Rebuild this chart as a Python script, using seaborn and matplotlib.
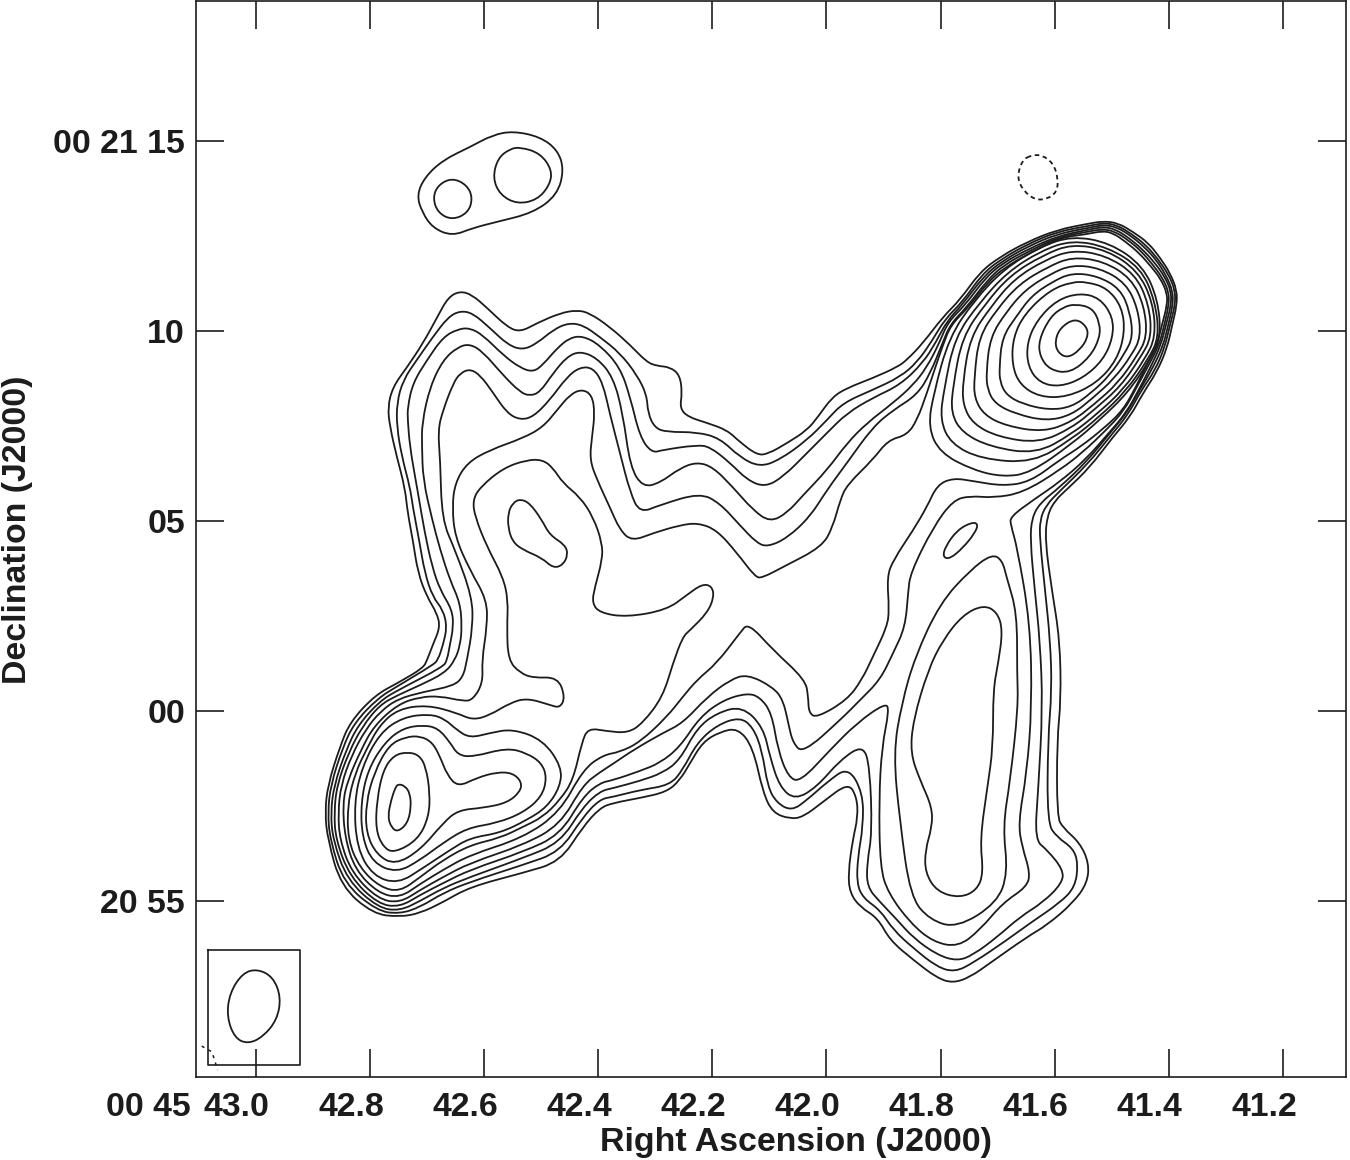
import numpy as np
import pandas as pd
import matplotlib
matplotlib.use("Agg")
import matplotlib.pyplot as plt
import seaborn as sns
from matplotlib.patches import PathPatch
from matplotlib.path import Path
from matplotlib.transforms import ScaledTranslation

# Contours: (RA seconds after 00 45, Dec arcsec relative to 00 21 00)
level1 = [(42.677,2.21),(42.683,2.58),(42.700,3.00),(42.716,3.63),(42.725,4.50),(42.734,5.21),(42.739,5.89),(42.753,6.68),(42.765,7.47),(42.769,8.00),(42.760,8.53),(42.735,9.05),(42.707,9.68),(42.682,10.37),(42.663,10.89),(42.642,11.05),(42.621,10.95),(42.595,10.61),(42.560,10.11),(42.537,9.97),(42.507,10.21),(42.467,10.47),(42.437,10.55),(42.415,10.47),(42.380,10.11),(42.344,9.63),(42.315,9.18),(42.297,9.08),(42.274,9.05),(42.257,8.84),(42.253,8.37),(42.257,7.97),(42.243,7.74),(42.209,7.58),(42.174,7.39),(42.152,7.08),(42.122,6.74),(42.103,6.76),(42.069,7.05),(42.034,7.39),(42.015,7.74),(41.990,8.26),(41.964,8.50),(41.919,8.76),(41.876,9.05),(41.859,9.24),(41.831,9.68),(41.796,10.37),(41.766,10.82),(41.731,11.55),(41.696,11.95),(41.649,12.34),(41.596,12.66),(41.543,12.82),(41.515,12.89),(41.489,12.84),(41.463,12.61),(41.436,12.32),(41.415,11.92),(41.398,11.53),(41.386,11.08),(41.386,10.68),(41.394,10.16),(41.403,9.55),(41.421,8.92),(41.445,8.37),(41.468,7.74),(41.498,7.21),(41.538,6.42),(41.578,5.84),(41.599,5.55),(41.613,5.16),(41.617,4.50),(41.605,3.18),(41.591,1.87),(41.589,0.29),(41.596,-0.76),(41.596,-2.79),(41.585,-3.08),(41.556,-3.47),(41.540,-4.00),(41.543,-4.53),(41.568,-5.05),(41.613,-5.63),(41.649,-5.95),(41.713,-6.63),(41.748,-7.00),(41.778,-7.16),(41.806,-7.03),(41.848,-6.55),(41.889,-6.03),(41.910,-5.45),(41.941,-5.16),(41.959,-4.79),(41.962,-4.26),(41.954,-3.39),(41.945,-2.79),(41.947,-2.26),(41.962,-1.89),(42.006,-2.39),(42.041,-2.79),(42.064,-2.84),(42.094,-2.68),(42.111,-2.16),(42.129,-0.95),(42.155,-0.45),(42.187,-0.55),(42.217,-0.82),(42.239,-1.37),(42.257,-1.82),(42.280,-2.13),(42.327,-2.29),(42.374,-2.42),(42.397,-2.55),(42.427,-3.05),(42.467,-3.97),(42.532,-4.26),(42.625,-4.63),(42.672,-5.03),(42.712,-5.32),(42.748,-5.42),(42.795,-5.34),(42.851,-4.61),(42.874,-3.39),(42.879,-2.68),(42.874,-1.95),(42.853,-0.95),(42.835,-0.29),(42.791,0.42),(42.751,0.74),(42.707,1.13),(42.700,1.34),(42.690,1.74)]
level2 = [(42.665,2.21),(42.672,2.66),(42.690,3.00),(42.704,3.63),(42.714,4.50),(42.725,5.37),(42.730,5.89),(42.744,6.68),(42.753,7.47),(42.753,8.11),(42.742,8.71),(42.718,9.24),(42.690,9.84),(42.663,10.37),(42.642,10.53),(42.620,10.47),(42.590,10.08),(42.558,9.63),(42.532,9.50),(42.507,9.68),(42.479,10.03),(42.453,10.21),(42.427,10.16),(42.397,9.84),(42.362,9.42),(42.332,8.84),(42.315,8.32),(42.313,7.84),(42.301,7.45),(42.280,7.34),(42.227,7.34),(42.187,7.18),(42.152,6.68),(42.117,6.42),(42.082,6.61),(42.034,7.13),(41.999,7.66),(41.971,8.11),(41.919,8.45),(41.871,8.79),(41.841,9.18),(41.815,9.74),(41.792,10.32),(41.762,10.76),(41.727,11.50),(41.694,11.89),(41.647,12.29),(41.596,12.61),(41.543,12.76),(41.515,12.84),(41.491,12.79),(41.465,12.55),(41.440,12.26),(41.419,11.89),(41.401,11.50),(41.389,11.08),(41.389,10.68),(41.398,10.16),(41.407,9.58),(41.424,8.97),(41.449,8.42),(41.472,7.79),(41.501,7.26),(41.542,6.50),(41.591,5.79),(41.615,5.42),(41.626,5.03),(41.626,4.50),(41.617,3.18),(41.608,1.87),(41.605,0.55),(41.612,-0.76),(41.613,-2.95),(41.596,-3.32),(41.568,-3.61),(41.559,-4.00),(41.564,-4.63),(41.591,-5.05),(41.643,-5.58),(41.684,-6.03),(41.743,-6.63),(41.775,-6.87),(41.806,-6.74),(41.848,-6.24),(41.883,-5.76),(41.906,-5.24),(41.936,-4.92),(41.947,-4.53),(41.945,-3.84),(41.936,-3.05),(41.936,-2.16),(41.962,-1.47),(41.999,-1.87),(42.034,-2.34),(42.061,-2.63),(42.087,-2.42),(42.103,-2.00),(42.113,-1.03),(42.129,-0.42),(42.152,-0.16),(42.192,-0.37),(42.227,-0.84),(42.252,-1.55),(42.274,-1.95),(42.327,-2.08),(42.374,-2.26),(42.397,-2.32),(42.427,-2.79),(42.467,-3.71),(42.532,-4.05),(42.625,-4.50),(42.672,-4.79),(42.712,-5.16),(42.748,-5.34),(42.788,-5.26),(42.846,-4.53),(42.870,-3.39),(42.874,-2.68),(42.869,-1.95),(42.848,-0.97),(42.828,-0.32),(42.786,0.34),(42.751,0.66),(42.690,1.21),(42.681,1.34),(42.672,1.74)]
level3 = [(42.654,2.21),(42.656,2.66),(42.677,3.18),(42.691,3.79),(42.704,4.68),(42.716,5.74),(42.721,6.16),(42.730,6.95),(42.734,7.66),(42.734,8.00),(42.725,8.63),(42.700,9.24),(42.672,9.84),(42.646,10.05),(42.625,10.08),(42.602,9.89),(42.567,9.37),(42.537,9.03),(42.514,8.92),(42.497,9.11),(42.472,9.55),(42.450,9.82),(42.427,9.87),(42.397,9.63),(42.362,9.05),(42.344,8.26),(42.327,7.21),(42.306,6.79),(42.287,6.87),(42.227,7.00),(42.204,6.95),(42.169,6.53),(42.139,6.08),(42.108,5.89),(42.076,6.16),(42.034,6.79),(41.999,7.32),(41.964,7.84),(41.919,8.24),(41.871,8.58),(41.831,9.16),(41.808,9.71),(41.789,10.26),(41.761,10.71),(41.724,11.45),(41.692,11.84),(41.645,12.24),(41.596,12.55),(41.543,12.71),(41.515,12.79),(41.492,12.74),(41.466,12.50),(41.443,12.21),(41.422,11.87),(41.405,11.47),(41.393,11.05),(41.393,10.68),(41.401,10.16),(41.410,9.61),(41.428,9.03),(41.451,8.45),(41.474,7.84),(41.503,7.32),(41.543,6.58),(41.591,5.89),(41.626,5.47),(41.640,5.08),(41.643,4.50),(41.635,3.18),(41.626,1.87),(41.621,0.11),(41.629,-2.08),(41.635,-3.39),(41.613,-3.66),(41.585,-4.18),(41.587,-4.53),(41.620,-5.03),(41.661,-5.42),(41.701,-5.95),(41.743,-6.42),(41.771,-6.58),(41.806,-6.42),(41.848,-5.97),(41.876,-5.50),(41.906,-5.03),(41.929,-4.63),(41.929,-4.00),(41.920,-3.21),(41.924,-1.47),(41.936,-0.89),(41.976,-1.29),(42.017,-2.00),(42.055,-2.34),(42.082,-2.00),(42.099,-1.21),(42.111,-0.42),(42.148,0.13),(42.192,-0.05),(42.227,-0.45),(42.257,-1.29),(42.287,-1.63),(42.327,-1.84),(42.374,-2.03),(42.397,-2.11),(42.427,-2.53),(42.467,-3.47),(42.532,-3.87),(42.625,-4.37),(42.672,-4.66),(42.712,-5.00),(42.748,-5.26),(42.786,-5.18),(42.840,-4.45),(42.865,-3.39),(42.869,-2.68),(42.863,-1.95),(42.842,-1.03),(42.821,-0.37),(42.783,0.26),(42.751,0.55),(42.672,1.16),(42.665,1.34),(42.660,1.74)]
level4 = [(42.639,2.21),(42.642,2.84),(42.660,3.45),(42.677,4.24),(42.691,5.03),(42.707,6.08),(42.709,6.95),(42.709,7.58),(42.695,8.53),(42.672,9.24),(42.646,9.58),(42.625,9.66),(42.602,9.45),(42.567,8.84),(42.537,8.39),(42.520,8.29),(42.502,8.39),(42.479,8.89),(42.455,9.32),(42.432,9.47),(42.402,9.29),(42.374,8.79),(42.357,7.84),(42.344,6.42),(42.322,5.89),(42.292,6.00),(42.257,6.39),(42.227,6.55),(42.199,6.42),(42.164,5.89),(42.129,5.29),(42.099,4.97),(42.069,5.21),(42.041,5.68),(41.999,6.34),(41.964,7.05),(41.929,7.58),(41.883,8.11),(41.848,8.58),(41.824,9.05),(41.803,9.66),(41.787,10.24),(41.757,10.68),(41.722,11.39),(41.691,11.79),(41.643,12.18),(41.594,12.50),(41.543,12.66),(41.515,12.74),(41.494,12.68),(41.470,12.45),(41.447,12.16),(41.426,11.82),(41.408,11.45),(41.396,11.05),(41.396,10.68),(41.405,10.16),(41.414,9.63),(41.431,9.08),(41.452,8.47),(41.475,7.84),(41.505,7.32),(41.545,6.63),(41.591,6.03),(41.635,5.58),(41.678,5.11),(41.677,4.89),(41.666,4.32),(41.643,2.32),(41.640,0.11),(41.649,-1.63),(41.664,-2.95),(41.657,-3.58),(41.643,-4.26),(41.649,-4.63),(41.691,-5.05),(41.731,-5.76),(41.769,-6.21),(41.813,-6.08),(41.853,-5.58),(41.892,-4.79),(41.906,-4.11),(41.908,-2.34),(41.903,-0.95),(41.890,0.03),(41.897,0.21),(41.947,-0.32),(41.994,-1.03),(42.046,-1.87),(42.067,-1.74),(42.085,-1.03),(42.096,-0.05),(42.117,0.37),(42.139,0.47),(42.181,0.29),(42.222,-0.16),(42.257,-0.95),(42.292,-1.37),(42.327,-1.58),(42.374,-1.82),(42.397,-1.89),(42.427,-2.26),(42.467,-3.26),(42.532,-3.71),(42.625,-4.18),(42.672,-4.53),(42.712,-4.84),(42.748,-5.16),(42.786,-5.08),(42.835,-4.37),(42.860,-3.39),(42.863,-2.68),(42.858,-1.95),(42.837,-1.08),(42.814,-0.42),(42.783,0.16),(42.751,0.42),(42.712,0.68),(42.669,1.00),(42.651,1.34),(42.642,1.74)]
level5 = [(42.620,2.21),(42.621,3.00),(42.651,4.24),(42.674,5.03),(42.677,6.61),(42.681,7.39),(42.672,7.92),(42.654,8.63),(42.642,8.89),(42.625,9.00),(42.607,8.84),(42.585,8.39),(42.560,7.84),(42.537,7.66),(42.514,7.74),(42.485,8.18),(42.455,8.79),(42.432,9.05),(42.409,9.03),(42.392,8.63),(42.380,7.84),(42.362,6.79),(42.344,5.74),(42.327,5.21),(42.292,5.42),(42.222,5.74),(42.187,5.47),(42.152,4.89),(42.122,4.42),(42.103,4.32),(42.069,4.55),(42.029,5.11),(41.999,5.82),(41.964,6.53),(41.919,7.47),(41.883,7.92),(41.841,8.32),(41.818,8.89),(41.798,9.63),(41.783,10.18),(41.754,10.63),(41.718,11.34),(41.689,11.74),(41.641,12.13),(41.594,12.47),(41.543,12.61),(41.517,12.68),(41.496,12.63),(41.471,12.39),(41.449,12.11),(41.429,11.76),(41.412,11.42),(41.400,11.03),(41.400,10.68),(41.408,10.16),(41.417,9.63),(41.435,9.11),(41.456,8.53),(41.479,7.89),(41.510,7.39),(41.550,6.82),(41.591,6.34),(41.656,5.74),(41.708,5.61),(41.748,5.66),(41.778,5.55),(41.813,4.84),(41.853,3.63),(41.857,3.11),(41.862,2.21),(41.883,1.53),(41.906,0.82),(41.941,0.29),(41.976,-0.24),(42.041,-1.11),(42.059,-0.84),(42.067,-0.32),(42.076,0.29),(42.094,0.63),(42.139,0.97),(42.169,0.82),(42.209,0.37),(42.252,-0.32),(42.287,-0.58),(42.339,-1.03),(42.374,-1.39),(42.397,-1.61),(42.427,-1.95),(42.467,-3.00),(42.532,-3.53),(42.625,-4.00),(42.672,-4.37),(42.712,-4.71),(42.748,-5.05),(42.786,-4.95),(42.832,-4.26),(42.853,-3.39),(42.856,-2.68),(42.851,-1.95),(42.832,-1.16),(42.807,-0.47),(42.781,0.00),(42.751,0.32),(42.707,0.50),(42.654,0.66),(42.637,0.89),(42.630,1.34)]
level6 = [(42.595,2.21),(42.595,2.92),(42.625,3.71),(42.651,4.58),(42.656,5.37),(42.651,6.00),(42.630,6.53),(42.590,6.87),(42.532,7.18),(42.497,7.47),(42.472,7.92),(42.450,8.32),(42.429,8.47),(42.411,8.32),(42.406,7.84),(42.411,7.21),(42.415,6.61),(42.402,6.08),(42.380,5.37),(42.362,4.76),(42.341,4.47),(42.304,4.68),(42.257,4.89),(42.225,4.95),(42.192,4.76),(42.157,4.16),(42.125,3.53),(42.113,3.50),(42.076,3.79),(42.008,4.32),(41.989,4.84),(41.976,5.55),(41.964,5.95),(41.919,6.61),(41.892,7.13),(41.859,7.26),(41.841,7.66),(41.824,8.37),(41.812,8.92),(41.796,9.63),(41.782,10.16),(41.752,10.61),(41.717,11.29),(41.687,11.68),(41.640,12.08),(41.592,12.45),(41.543,12.55),(41.517,12.63),(41.498,12.58),(41.475,12.34),(41.452,12.05),(41.432,11.71),(41.415,11.39),(41.403,11.00),(41.403,10.68),(41.412,10.16),(41.421,9.63),(41.438,9.13),(41.457,8.55),(41.480,7.92),(41.513,7.45),(41.555,6.95),(41.591,6.61),(41.643,6.03),(41.691,5.92),(41.743,6.05),(41.778,6.13),(41.806,5.95),(41.824,5.37),(41.848,4.76),(41.883,3.97),(41.894,3.53),(41.890,2.66),(41.894,2.21),(41.919,1.42),(41.938,0.82),(41.964,0.29),(42.017,-0.18),(42.031,-0.05),(42.032,0.37),(42.037,0.82),(42.094,1.61),(42.137,2.32),(42.152,2.05),(42.192,1.26),(42.227,0.82),(42.252,0.37),(42.280,-0.16),(42.327,-0.82),(42.362,-1.08),(42.392,-1.16),(42.427,-1.55),(42.467,-2.66),(42.532,-3.34),(42.625,-3.79),(42.672,-4.18),(42.712,-4.55),(42.748,-4.92),(42.786,-4.79),(42.826,-4.18),(42.844,-3.34),(42.848,-2.42),(42.839,-1.82),(42.816,-1.03),(42.793,-0.39),(42.751,0.18),(42.712,0.37),(42.677,0.39),(42.637,0.26),(42.620,0.29),(42.602,0.74),(42.604,1.34)]
level7 = [(42.560,2.21),(42.558,2.92),(42.567,3.53),(42.595,4.32),(42.616,5.11),(42.620,5.55),(42.607,5.89),(42.567,6.39),(42.525,6.61),(42.497,6.61),(42.479,6.39),(42.462,6.00),(42.432,5.63),(42.409,5.11),(42.393,4.42),(42.393,3.97),(42.406,3.26),(42.411,2.84),(42.397,2.58),(42.350,2.47),(42.280,2.66),(42.245,3.05),(42.218,3.34),(42.201,3.29),(42.197,3.00),(42.209,2.58),(42.239,2.13),(42.252,1.95),(42.269,1.26),(42.287,0.37),(42.322,-0.32),(42.348,-0.58),(42.385,-0.53),(42.418,-0.45),(42.429,-0.84),(42.444,-1.82),(42.467,-2.34),(42.497,-2.79),(42.532,-3.05),(42.572,-3.34),(42.625,-3.53),(42.672,-3.92),(42.712,-4.37),(42.748,-4.76),(42.783,-4.63),(42.818,-4.13),(42.839,-3.39),(42.839,-2.42),(42.826,-1.63),(42.805,-0.97),(42.783,-0.37),(42.751,0.05),(42.700,0.16),(42.648,-0.05),(42.620,-0.24),(42.590,-0.11),(42.555,0.21),(42.525,0.34),(42.485,0.16),(42.467,0.08),(42.458,0.37),(42.471,0.89),(42.514,0.87),(42.537,1.00),(42.558,1.34)]
centre_peak = [(42.537,5.58),(42.520,5.47),(42.499,5.03),(42.485,4.63),(42.458,4.37),(42.453,4.11),(42.462,3.84),(42.479,3.76),(42.499,4.03),(42.532,4.24),(42.550,4.45),(42.558,4.82),(42.558,5.21),(42.550,5.47)]
east_peak = [(41.745,4.97),(41.734,4.92),(41.740,4.68),(41.761,4.29),(41.784,4.00),(41.796,4.05),(41.792,4.32),(41.771,4.76)]

# south lobe islands
south_outer = [(41.710,4.13),(41.692,3.97),(41.684,3.50),(41.666,2.58),(41.666,1.00),(41.664,0.11),(41.678,-1.82),(41.691,-3.05),(41.682,-4.26),(41.701,-5.05),(41.771,-5.71),(41.819,-5.50),(41.853,-4.89),(41.871,-2.95),(41.883,-1.11),(41.868,0.21),(41.845,1.42),(41.801,2.84),(41.748,3.71)]
south_inner = [(41.725,2.79),(41.701,2.61),(41.691,2.13),(41.699,1.26),(41.708,0.55),(41.708,-0.95),(41.718,-2.00),(41.731,-3.39),(41.725,-4.26),(41.736,-4.71),(41.766,-4.92),(41.806,-4.76),(41.827,-4.26),(41.827,-3.66),(41.815,-3.05),(41.815,-2.53),(41.836,-1.82),(41.853,-1.11),(41.848,-0.24),(41.822,1.08),(41.796,1.87),(41.761,2.53)]

# south-west lobe rings
sw_ring4 = [(42.695,-0.08),(42.669,-0.21),(42.648,-0.50),(42.625,-0.71),(42.590,-0.58),(42.550,-0.47),(42.497,-0.76),(42.464,-1.47),(42.467,-2.00),(42.490,-2.53),(42.525,-2.87),(42.572,-3.21),(42.625,-3.34),(42.660,-3.66),(42.707,-4.13),(42.751,-4.55),(42.795,-4.34),(42.823,-3.61),(42.828,-2.42),(42.814,-1.47),(42.783,-0.58),(42.742,-0.16)]
sw_ring3 = [(42.707,-0.37),(42.681,-0.45),(42.660,-0.82),(42.646,-1.16),(42.620,-1.21),(42.560,-0.97),(42.525,-1.11),(42.499,-1.37),(42.490,-1.76),(42.499,-2.26),(42.532,-2.68),(42.578,-2.95),(42.630,-3.08),(42.672,-3.47),(42.712,-3.92),(42.753,-4.26),(42.795,-4.00),(42.814,-3.32),(42.816,-2.42),(42.804,-1.55),(42.774,-0.82),(42.742,-0.45)]
sw_ring2 = [(42.712,-0.66),(42.691,-0.82),(42.677,-1.21),(42.665,-1.68),(42.646,-2.00),(42.613,-1.76),(42.578,-1.61),(42.550,-1.63),(42.534,-1.87),(42.537,-2.13),(42.560,-2.42),(42.602,-2.55),(42.646,-2.61),(42.672,-2.95),(42.712,-3.66),(42.756,-4.05),(42.788,-3.79),(42.807,-3.21),(42.807,-2.42),(42.793,-1.63),(42.767,-0.89),(42.737,-0.68)]
sw_ring1 = [(42.734,-1.08),(42.714,-1.16),(42.702,-1.47),(42.695,-2.16),(42.697,-2.79),(42.716,-3.39),(42.758,-3.74),(42.777,-3.58),(42.790,-3.13),(42.788,-2.34),(42.777,-1.55),(42.758,-1.16)]
sw_peak = [(42.751,-1.92),(42.739,-1.97),(42.730,-2.16),(42.728,-2.53),(42.734,-2.95),(42.751,-3.18),(42.762,-3.08),(42.769,-2.79),(42.763,-2.34),(42.756,-2.03)]

# north-east lobe rings, innermost first
ne_ring1 = [(41.564,10.34),(41.543,10.11),(41.542,9.82),(41.556,9.50),(41.577,9.29),(41.594,9.42),(41.600,9.71),(41.591,10.08)]
ne_ring2 = [(41.564,10.71),(41.534,10.61),(41.521,10.21),(41.521,9.82),(41.538,9.32),(41.573,8.89),(41.608,8.97),(41.626,9.32),(41.628,9.76),(41.608,10.37),(41.585,10.63)]
ne_ring3 = [(41.556,11.00),(41.521,10.87),(41.498,10.37),(41.498,9.82),(41.515,9.24),(41.550,8.76),(41.591,8.53),(41.626,8.63),(41.647,9.05),(41.649,9.68),(41.631,10.29),(41.596,10.82)]
ne_ring4 = [(41.543,11.29),(41.508,11.13),(41.482,10.63),(41.477,9.95),(41.491,9.24),(41.526,8.63),(41.578,8.26),(41.626,8.26),(41.661,8.58),(41.675,9.11),(41.673,9.84),(41.652,10.47),(41.608,11.08),(41.570,11.29)]
ne_ring5 = [(41.570,11.53),(41.605,11.29),(41.641,10.92),(41.667,10.39),(41.692,9.84),(41.697,9.05),(41.696,8.66),(41.685,8.32),(41.657,8.08),(41.610,7.92),(41.570,8.00),(41.536,8.37),(41.503,8.84),(41.477,9.42),(41.463,9.84),(41.468,10.50),(41.485,11.11),(41.525,11.45)]
ne_ring6 = [(41.570,11.74),(41.608,11.50),(41.652,11.08),(41.685,10.50),(41.713,9.84),(41.720,8.92),(41.718,8.45),(41.704,8.08),(41.669,7.82),(41.615,7.63),(41.570,7.79),(41.533,8.24),(41.496,8.74),(41.465,9.37),(41.449,9.84),(41.454,10.58),(41.475,11.26),(41.521,11.66)]
ne_ring7 = [(41.570,11.95),(41.613,11.68),(41.662,11.24),(41.701,10.58),(41.733,9.84),(41.741,8.79),(41.741,8.24),(41.724,7.79),(41.685,7.50),(41.620,7.34),(41.570,7.61),(41.530,8.08),(41.489,8.63),(41.456,9.34),(41.438,9.84),(41.443,10.66),(41.466,11.39),(41.515,11.84)]
ne_ring8 = [(41.570,12.13),(41.617,11.87),(41.671,11.37),(41.711,10.66),(41.748,9.84),(41.761,8.68),(41.761,8.05),(41.743,7.55),(41.699,7.21),(41.628,7.05),(41.570,7.45),(41.529,7.95),(41.484,8.55),(41.449,9.32),(41.430,9.84),(41.435,10.71),(41.459,11.50),(41.512,12.00)]
ne_ring9 = [(41.570,12.29),(41.620,12.00),(41.678,11.47),(41.722,10.71),(41.762,9.84),(41.778,8.58),(41.782,7.84),(41.762,7.32),(41.713,6.95),(41.633,6.76),(41.570,7.29),(41.524,7.84),(41.479,8.47),(41.442,9.26),(41.423,9.84),(41.428,10.76),(41.454,11.58),(41.508,12.13)]
ne_ring10 = [(41.570,12.39),(41.624,12.11),(41.683,11.55),(41.731,10.76),(41.775,9.84),(41.794,8.47),(41.801,7.66),(41.782,7.03),(41.729,6.63),(41.638,6.53),(41.570,7.16),(41.522,7.74),(41.475,8.42),(41.436,9.26),(41.417,9.84),(41.424,10.79),(41.449,11.66),(41.507,12.21)]
ne_ring11 = [(41.570,12.50),(41.626,12.21),(41.689,11.63),(41.740,10.82),(41.785,9.84),(41.812,8.37),(41.822,7.47),(41.801,6.79),(41.743,6.34),(41.691,6.16),(41.643,6.26),(41.570,7.03),(41.521,7.66),(41.472,8.37),(41.433,9.24),(41.414,9.84),(41.419,10.82),(41.445,11.71),(41.503,12.32)]

# small source at the top
north_outer = [(42.549,15.26),(42.502,15.11),(42.471,14.76),(42.460,14.24),(42.472,13.58),(42.514,13.11),(42.578,12.87),(42.620,12.71),(42.656,12.50),(42.690,12.71),(42.709,13.13),(42.718,13.58),(42.704,14.05),(42.672,14.50),(42.625,14.84),(42.585,15.16)]
north_big = [(42.537,14.84),(42.502,14.68),(42.481,14.24),(42.485,13.84),(42.507,13.45),(42.542,13.34),(42.572,13.58),(42.585,14.03),(42.576,14.55),(42.555,14.79)]
north_small = [(42.656,14.03),(42.630,13.84),(42.620,13.50),(42.628,13.11),(42.656,12.92),(42.681,13.11),(42.690,13.50),(42.681,13.84)]

# negative contour
negative_ring = [(41.640,14.63),(41.622,14.63),(41.603,14.42),(41.594,14.03),(41.596,13.66),(41.613,13.47),(41.635,13.45),(41.656,13.71),(41.666,14.05),(41.657,14.50)]
noise_bit = [(43.095,-8.82),(43.077,-8.97),(43.067,-9.45)]

# beam inset
beam_ring = [(42.997,-6.79),(42.970,-7.00),(42.956,-7.53),(42.963,-8.13),(42.988,-8.58),(43.014,-8.76),(43.037,-8.61),(43.051,-8.05),(43.046,-7.42),(43.023,-6.89)]
beam_box = [(43.084,-6.29),(42.923,-6.29),(42.923,-9.32),(43.084,-9.32)]

ra_ticks = [43.0, 42.8, 42.6, 42.4, 42.2, 42.0, 41.8, 41.6, 41.4, 41.2]
ra_labels = ["43.0", "42.8", "42.6", "42.4", "42.2", "42.0", "41.8", "41.6", "41.4", "41.2"]
dec_ticks = [15, 10, 5, 0, -5]
dec_labels = ["00 21 15", "10", "05", "00", "20 55"]

solid = {
    "level1": level1, "level2": level2, "level3": level3, "level4": level4,
    "level5": level5, "level6": level6, "level7": level7,
    "centre_peak": centre_peak, "east_peak": east_peak,
    "south_outer": south_outer, "south_inner": south_inner,
    "sw_ring4": sw_ring4, "sw_ring3": sw_ring3, "sw_ring2": sw_ring2,
    "sw_ring1": sw_ring1, "sw_peak": sw_peak,
    "ne_ring1": ne_ring1, "ne_ring2": ne_ring2, "ne_ring3": ne_ring3,
    "ne_ring4": ne_ring4, "ne_ring5": ne_ring5, "ne_ring6": ne_ring6,
    "ne_ring7": ne_ring7, "ne_ring8": ne_ring8, "ne_ring9": ne_ring9,
    "ne_ring10": ne_ring10, "ne_ring11": ne_ring11,
    "north_outer": north_outer, "north_big": north_big, "north_small": north_small,
    "beam_ring": beam_ring,
}


def to_frame(paths, closed=True):
    rows = []
    for name, points in paths.items():
        pts = points + points[:1] if closed else points
        for ra, dec in pts:
            rows.append({"contour": name, "ra": ra, "dec": dec})
    return pd.DataFrame(rows)


def draw_smooth(line, style):
    # show a closed contour as a rounded curve, its points are the control points
    pts = line.get_xydata()[:-1]
    mids = (pts + np.roll(pts, -1, axis=0)) / 2
    verts = [mids[-1]]
    codes = [Path.MOVETO]
    for p, m in zip(pts, mids):
        verts += [p, m]
        codes += [Path.CURVE3, Path.CURVE3]
    ax.add_patch(PathPatch(Path(verts, codes), fill=False, edgecolor=line.get_color(),
                           linewidth=line.get_linewidth(), linestyle=style))
    line.remove()


sns.set_theme(style="ticks")
plt.rcParams["font.family"] = ["Liberation Sans", "DejaVu Sans"]
plt.rcParams["font.weight"] = "bold"

fig = plt.figure(figsize=(13.5, 11.6), dpi=100)
ax = fig.add_axes([196 / 1350, 1 - 1077 / 1160, 1150 / 1350, 1076 / 1160])

ink = "#1c1c1c"
sns.lineplot(data=to_frame(solid), x="ra", y="dec", units="contour", estimator=None,
             sort=False, color=ink, linewidth=1.3, legend=False, ax=ax)
for line in list(ax.lines):
    draw_smooth(line, "-")

sns.lineplot(data=to_frame({"neg": negative_ring}), x="ra", y="dec", units="contour",
             estimator=None, sort=False, color=ink, linewidth=1.3, legend=False, ax=ax)
draw_smooth(ax.lines[-1], (0, (2.5, 2)))

sns.lineplot(data=to_frame({"noise": noise_bit}, closed=False), x="ra", y="dec", units="contour",
             estimator=None, sort=False, color=ink, linewidth=1.1, linestyle=(0, (2, 3)),
             legend=False, ax=ax)
sns.lineplot(data=to_frame({"box": beam_box}), x="ra", y="dec", units="contour",
             estimator=None, sort=False, color=ink, linewidth=1.2, legend=False, ax=ax)

ax.set_xlim(43.105, 41.0895)
ax.set_ylim(-9.632, 18.684)
ax.set_xticks(ra_ticks)
ax.set_xticklabels(ra_labels)
ax.set_yticks(dec_ticks)
ax.set_yticklabels(dec_labels)
ax.tick_params(direction="in", length=20, width=1.2, top=True, right=True,
               labelsize=24.4, colors=ink, pad=8)
ax.tick_params(axis="x", pad=10.5)
# the RA labels sit a little to the left of their ticks
shift = ScaledTranslation(-19 / 100, 0, fig.dpi_scale_trans)
for label in ax.get_xticklabels():
    label.set_transform(label.get_transform() + shift)
for spine in ax.spines.values():
    spine.set_visible(True)
    spine.set_linewidth(1.2)
    spine.set_color(ink)

ax.annotate("00 45", xy=(43.0, 0), xycoords=("data", "axes fraction"), xytext=(-47, -10.5),
            textcoords="offset points", ha="right", va="top", fontsize=24.4,
            fontweight="bold", color=ink)

ax.set_xlabel("Right Ascension (J2000)", fontsize=24.4, fontweight="bold", color=ink)
ax.set_ylabel("Declination (J2000)", fontsize=24.4, fontweight="bold", color=ink)
ax.xaxis.set_label_coords((796 - 196) / 1150, -50 / 1076)
ax.yaxis.set_label_coords(-163 / 1150, (1077 - 530) / 1076)

fig.savefig("out.png", dpi=100)
